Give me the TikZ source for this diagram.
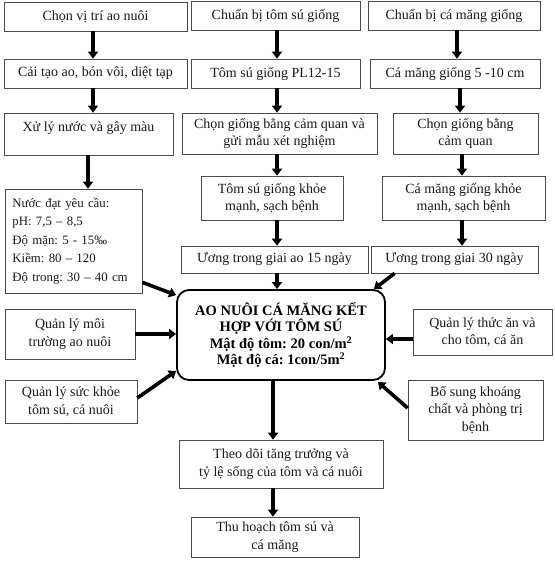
\documentclass[tikz,border=0pt]{standalone}
\usepackage{fontspec}
\setmainfont{Liberation Serif}
\usetikzlibrary{arrows.meta,calc}
\frenchspacing
\tikzset{
  box/.style={draw=black!70, line width=0.7pt, inner sep=0pt, align=center,
    font=\fontsize{14}{17.5}\selectfont, text=black!90},
  arr/.style={line width=3.6pt, -{Triangle[width=10pt,length=7pt]}},
  centre/.style={draw=black, line width=1.8pt, rounded corners=12pt, inner sep=0pt,
    align=center, font=\fontsize{14.5}{16.5}\selectfont\bfseries},
}
\begin{document}
\begin{tikzpicture}[x=1pt,y=-1pt]
\useasboundingbox[fill=white] (0,0) rectangle (554,569);
% column 1
\node[box, minimum width=183, minimum height=29] (a1) at (95.5,16.5) {Chọn vị trí ao nuôi};
\node[box, minimum width=183, minimum height=29] (a2) at (95.5,73.5) {Cải tạo ao, bón vôi, diệt tạp};
\node[box, minimum width=169, minimum height=42, text depth=14pt] (a3) at (88.5,134) {Xử lý nước và gây màu};
\node[box, minimum width=137, minimum height=104, text width=122, align=left,
  font=\fontsize{12.8}{18.5}\selectfont] (a4) at (73.5,241)
  {Nước đạt yêu cầu:\\pH: 7,5 – 8,5\\Độ mặn: 5 - 15‰\\Kiềm: 80 – 120\\Độ trong: 30 – 40 cm};
% column 2
\node[box, minimum width=169, minimum height=29] (b1) at (275.5,15.5) {Chuẩn bị tôm sú giống};
\node[box, minimum width=169, minimum height=29] (b2) at (275.5,73.5) {Tôm sú giống PL12-15};
\node[box, minimum width=195, minimum height=41] (b3) at (279.5,133.5) {Chọn giống bằng cảm quan và\\gửi mẫu xét nghiệm};
\node[box, minimum width=142, minimum height=44] (b4) at (272,198) {Tôm sú giống khỏe\\mạnh, sạch bệnh};
\node[box, minimum width=187, minimum height=27] (b5) at (274.5,259.5) {Ương trong giai ao 15 ngày};
% column 3
\node[box, minimum width=172, minimum height=29] (c1) at (454,15.5) {Chuẩn bị cá măng giống};
\node[box, minimum width=170, minimum height=29] (c2) at (455,73.5) {Cá măng giống 5 -10 cm};
\node[box, minimum width=145, minimum height=41] (c3) at (465.5,133.5) {Chọn giống bằng\\cảm quan};
\node[box, minimum width=163, minimum height=44] (c4) at (463.5,198) {Cá măng giống khỏe\\mạnh, sạch bệnh};
\node[box, minimum width=167, minimum height=27] (c5) at (454.5,259.5) {Ương trong giai 30 ngày};
% centre
\node[centre, minimum width=208, minimum height=90] (ctr) at (281,335)
  {AO NUÔI CÁ MĂNG KẾT\\HỢP VỚI TÔM SÚ\\Mật độ tôm: 20 con/m\textsuperscript{2}\\Mật độ cá: 1con/5m\textsuperscript{2}};
% side boxes
\node[box, minimum width=130, minimum height=50] (m1) at (70,334) {Quản lý môi\\trường ao nuôi};
\node[box, minimum width=132, minimum height=43] (m2) at (71,401.5) {Quản lý sức khỏe\\tôm sú, cá nuôi};
\node[box, minimum width=139, minimum height=46] (r1) at (482.5,332) {Quản lý thức ăn và\\cho tôm, cá ăn};
\node[box, minimum width=135, minimum height=60] (r2) at (475.5,410) {Bổ sung khoáng\\chất và phòng trị\\bệnh};
% bottom
\node[box, minimum width=204, minimum height=48] (t1) at (281,464) {Theo dõi tăng trưởng và\\tỷ lệ sống của tôm và cá nuôi};
\node[box, minimum width=168, minimum height=40] (t2) at (275,537) {Thu hoạch tôm sú và\\cá măng};
% arrow columns
\coordinate (xa) at (93,0);
\coordinate (xb) at (88,0);
\coordinate (xc) at (277,0);
\coordinate (xd1) at (457,0);
\coordinate (xd2) at (460,0);
\coordinate (xd3) at (462,0);
\coordinate (xe) at (273,0);
\draw[arr] (a1.south -| xa) -- (a2.north -| xa);
\draw[arr] (a2.south -| xa) -- (a3.north -| xa);
\draw[arr] (a3.south -| xb) -- (a4.north -| xb);
\draw[arr] (b1.south -| xc) -- (b2.north -| xc);
\draw[arr] (b2.south -| xc) -- (b3.north -| xc);
\draw[arr] (b3.south -| xc) -- (b4.north -| xc);
\draw[arr] (b4.south -| xc) -- (b5.north -| xc);
\draw[arr] (b5.south -| xc) -- (ctr.north -| xc);
\draw[arr] (c1.south -| xd1) -- (c2.north -| xd1);
\draw[arr] (c2.south -| xd2) -- (c3.north -| xd2);
\draw[arr] (c3.south -| xd3) -- (c4.north -| xd3);
\draw[arr] (c4.south -| xd3) -- (c5.north -| xd3);
\draw[arr] ($(c5.south west)+(24,0)$) -- ($(ctr.north east)+(-12,0)$);
\draw[arr] ($(a4.south east)+(0,-11)$) -- ($(ctr.north west)+(0,6)$);
\draw[arr] (m1.east) -- (m1.east -| ctr.west);
\draw[arr] ($(m2.east)+(0,-3.5)$) -- ($(ctr.south west)+(0,-10)$);
\draw[arr] ($(r1.west)+(0,7)$) coordinate (rr) -- (rr -| ctr.east);
\draw[arr] ($(r2.west)+(0,-2)$) -- ($(ctr.south east)+(-8,1)$);
\draw[arr] (ctr.south -| xe) -- (t1.north -| xe);
\draw[arr] (t1.south -| xe) -- (t2.north -| xe);
\end{tikzpicture}
\end{document}
